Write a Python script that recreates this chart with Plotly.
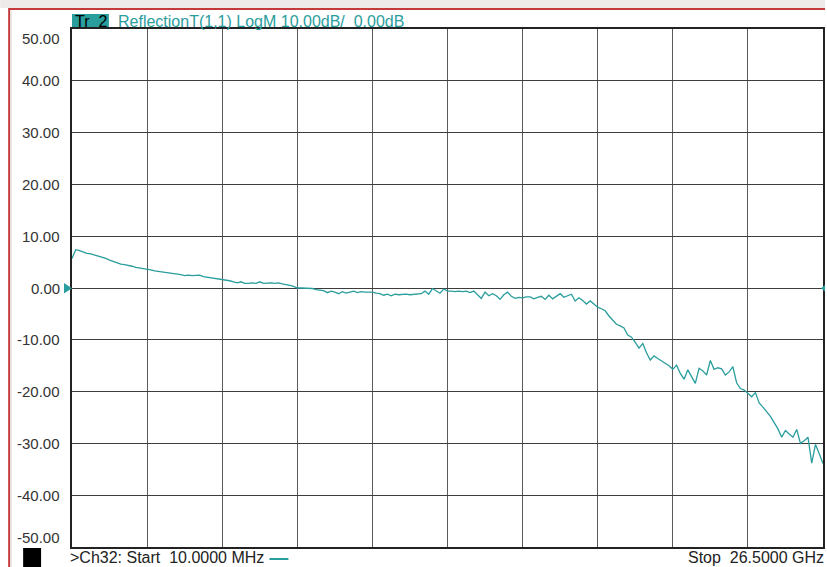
import numpy as np
import plotly.graph_objects as go

# sweep settings (GHz)
start_ghz = 0.01
stop_ghz = 26.5
n_points = 201

# Reflection T(1,1), LogM in dB
s11_db = [
    5.7, 7.4, 7.2, 6.9, 6.7, 6.6, 6.4, 6.2, 6.0, 5.7,
    5.4, 5.1, 4.8, 4.6, 4.5, 4.4, 4.2, 4.0, 3.9, 3.8,
    3.6, 3.5, 3.3, 3.2, 3.1, 3.0, 2.9, 2.9, 2.7, 2.6,
    2.4, 2.5, 2.4, 2.4, 2.5, 2.2, 2.1, 2.0, 1.9, 1.8,
    1.7, 1.5, 1.4, 1.2, 1.0, 1.2, 0.9, 0.9, 1.0, 0.9,
    1.2, 0.9, 1.0, 1.0, 0.9, 1.0, 0.8, 0.7, 0.5, 0.3,
    0.0, 0.0, 0.0, -0.1, -0.1, -0.3, -0.4, -0.5, -0.9, -0.6,
    -0.8, -1.1, -0.7, -1.0, -0.8, -0.6, -0.9, -0.7, -0.8, -0.8,
    -0.8, -1.0, -1.1, -1.4, -1.2, -1.5, -1.2, -1.3, -1.2, -1.2,
    -1.3, -1.2, -1.1, -1.1, -0.6, -1.2, -0.1, -0.6, -1.0, -0.2,
    -0.6, -0.6, -0.7, -0.6, -0.7, -0.6, -0.9, -0.6, -1.3, -2.0,
    -0.8, -1.5, -1.1, -1.5, -2.2, -1.3, -0.8, -1.6, -2.0, -1.8,
    -1.9, -1.7, -1.7, -2.1, -1.8, -1.6, -2.2, -1.4, -2.1, -1.6,
    -1.1, -1.8, -1.5, -1.2, -2.5, -1.9, -2.4, -3.1, -2.5, -3.1,
    -3.7, -4.0, -4.4, -5.4, -6.3, -7.0, -7.3, -7.7, -9.1, -9.5,
    -10.5, -11.6, -10.7, -12.5, -13.9, -13.1, -13.6, -14.1, -14.6, -15.0,
    -15.7, -14.9, -16.5, -17.6, -15.8, -17.2, -18.4, -15.5, -16.0, -16.8,
    -14.0, -15.7, -15.4, -15.6, -16.8, -16.2, -15.2, -18.3, -19.4, -19.7,
    -20.3, -21.0, -20.2, -22.2, -23.0, -23.8, -24.8, -26.0, -27.2, -28.8,
    -27.5, -28.2, -28.8, -27.3, -30.0, -29.5, -28.8, -33.8, -30.2, -32.0,
    -33.9,
]

y_ticks = [50, 40, 30, 20, 10, 0, -10, -20, -30, -40, -50]
y_labels = ["50.00", "40.00", "30.00", "20.00", "10.00", "0.00",
            "-10.00", "-20.00", "-30.00", "-40.00", "-50.00"]

NB = "\u00a0"  # keep the analyzer's double spaces
header_tr = f"Tr{NB}{NB}2"
header_text = f"ReflectionT(1,1) LogM 10.00dB/{NB}{NB}0.00dB"
start_text = f">Ch32: Start{NB}{NB}10.0000 MHz"
stop_text = f"Stop{NB}{NB}26.5000 GHz"

freq = np.linspace(start_ghz, stop_ghz, n_points)

TEAL = "#2a9d9d"
FONT = "Arial, Liberation Sans, sans-serif"

W, H = 827, 567
# plot box in window pixels: x 72..825, y 29..547
X0, X1, Y0, Y1 = 72, 825, 29, 547
L, R, T, B = X0, W - X1, Y0, H - Y1
pw, ph = X1 - X0, Y1 - Y0


def px(x):
    return (x - X0) / pw


def py(y):
    return (Y1 - y) / ph


fig = go.Figure()
fig.add_trace(go.Scatter(
    x=freq, y=s11_db, mode="lines",
    line=dict(color=TEAL, width=1.3),
    hoverinfo="skip", showlegend=False,
))

fig.update_xaxes(
    range=[start_ghz, stop_ghz], tick0=start_ghz, dtick=(stop_ghz - start_ghz) / 10,
    showticklabels=False, ticks="", showgrid=True, gridcolor="#5a5a5a", gridwidth=1.4,
    zeroline=False, showline=True, linecolor="#222", linewidth=1.6, mirror=True,
)
fig.update_yaxes(
    range=[-50, 50], tick0=0, dtick=10,
    showticklabels=False, ticks="", showgrid=True, gridcolor="#3c3c3c", gridwidth=1.4,
    zeroline=False, showline=True, linecolor="#222", linewidth=1.6, mirror=True,
)

ann = []
for v, lab in zip(y_ticks, y_labels):
    shift = -9 if v == 50 else (10 if v == -50 else 0)
    ann.append(dict(
        x=0, xref="paper", y=v, yref="y", text=lab, showarrow=False,
        xanchor="right", yanchor="middle", xshift=-10, yshift=shift,
        font=dict(family=FONT, size=15, color="#333"),
    ))

# header
ann.append(dict(x=px(73), y=py(21), xref="paper", yref="paper", text=header_tr,
                showarrow=False, xanchor="left", yanchor="middle",
                font=dict(family=FONT, size=16, color="#000")))
ann.append(dict(x=px(116), y=py(21), xref="paper", yref="paper", text=header_text,
                showarrow=False, xanchor="left", yanchor="middle",
                font=dict(family=FONT, size=16, color=TEAL)))
# footer
ann.append(dict(x=px(68), y=py(557), xref="paper", yref="paper", text=start_text,
                showarrow=False, xanchor="left", yanchor="middle",
                font=dict(family=FONT, size=16, color="#222")))
ann.append(dict(x=px(828), y=py(557), xref="paper", yref="paper", text=stop_text,
                showarrow=False, xanchor="right", yanchor="middle",
                font=dict(family=FONT, size=16, color="#222")))

shapes = [
    # pale strip at very top
    dict(type="rect", xref="paper", yref="paper", x0=px(0), x1=px(W), y0=py(8), y1=py(0),
         fillcolor="#eeeaea", line=dict(width=0), layer="below"),
    # red frame
    dict(type="line", xref="paper", yref="paper", x0=px(8), x1=px(827), y0=py(9), y1=py(9),
         line=dict(color="#c43a3a", width=2)),
    dict(type="line", xref="paper", yref="paper", x0=px(9), x1=px(9), y0=py(9), y1=py(567),
         line=dict(color="#c43a3a", width=2)),
    dict(type="line", xref="paper", yref="paper", x0=px(11), x1=px(11), y0=py(11), y1=py(567),
         line=dict(color="#dddddd", width=1)),
    # trace tag box
    dict(type="rect", xref="paper", yref="paper", x0=px(72), x1=px(109), y0=py(28), y1=py(14),
         fillcolor=TEAL, line=dict(width=0), layer="below"),
    # channel square
    dict(type="rect", xref="paper", yref="paper", x0=px(23), x1=px(41), y0=py(567), y1=py(548),
         fillcolor="#000", line=dict(width=0)),
    # trace colour dash in footer
    dict(type="line", xref="paper", yref="paper", x0=px(270), x1=px(289), y0=py(559), y1=py(559),
         line=dict(color=TEAL, width=2)),
    # reference level markers
    dict(type="path", xref="paper", yref="paper",
         path=f"M {px(64)} {py(283)} L {px(72)} {py(288.3)} L {px(64)} {py(293.5)} Z",
         fillcolor=TEAL, line=dict(width=0)),
    dict(type="path", xref="paper", yref="paper",
         path=f"M {px(827)} {py(285)} L {px(823)} {py(288.3)} L {px(827)} {py(291.5)} Z",
         fillcolor=TEAL, line=dict(width=0)),
]

fig.update_layout(
    width=W, height=H,
    margin=dict(l=L, r=R, t=T, b=B),
    paper_bgcolor="white", plot_bgcolor="white",
    annotations=ann, shapes=shapes,
    showlegend=False,
)

# drop the browser's default body margin so the figure sits at the window corner
fig.write_html(
    "out.html",
    config={"displayModeBar": False},
    post_script="document.body.style.margin = '0';",
)
